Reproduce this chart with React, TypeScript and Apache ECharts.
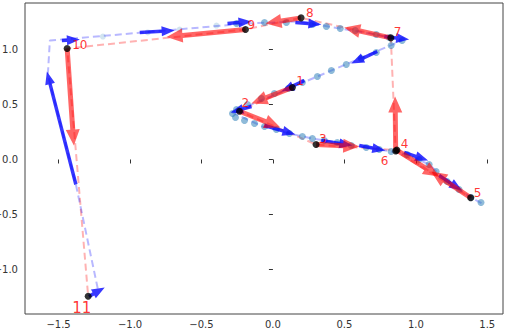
import React, { useEffect, useRef } from "react";
import * as echarts from "echarts";

// Red trajectory points (labelled 1..11)
const pointLabels = ["1", "2", "3", "4", "5", "6", "7", "8", "9", "10", "11"];
const pointX = [0.136, -0.234, 0.302, 0.867, 1.384, 0.859, 0.825, 0.197, -0.192, -1.44, -1.293];
const pointY = [0.655, 0.439, 0.136, 0.085, -0.348, 0.077, 1.106, 1.288, 1.182, 1.009, -1.243];

// Red arrows: tips (start at point i)
const redTipX = [-0.15, 0.052, 0.604, 1.163, 1.107, 0.855, 0.499, -0.052, -0.744, -1.393];
const redTipY = [0.509, 0.291, 0.118, -0.155, -0.109, 0.573, 1.2, 1.236, 1.114, 0.127];

// Blue dashed path
const bluePathX = [-1.226, -1.379, -1.575, -1.561, -0.192, 0.185, 0.471, 0.723, 0.904, -0.283, -0.073, 0.115, 0.276, 0.45, 0.653, 0.827, 0.939, 1.093, 1.219, 1.386, 1.463];
const bluePathY = [-1.173, -0.227, 0.773, 1.082, 1.236, 1.255, 1.191, 1.136, 1.082, 0.427, 0.3, 0.236, 0.191, 0.155, 0.109, 0.073, 0.045, -0.045, -0.2, -0.345, -0.4];

// Blue sampled dots
const blueDotX = [-0.255, -0.059, 0.094, 0.276, 0.374, 0.471, 0.576, 0.723, 0.814, 0.904,
  0.827, 0.723, 0.618, 0.513, 0.409, 0.311, 0.206, 0.108, 0.01, -0.08, -0.178, -0.255, -0.283,
  -0.262, -0.199, -0.129, -0.059, 0.024, 0.115, 0.206, 0.276, 0.36, 0.45, 0.548, 0.653, 0.744, 0.827, 0.939, 1.023, 1.093, 1.142, 1.219, 1.302, 1.386, 1.456];
const blueDotY = [1.236, 1.245, 1.245, 1.227, 1.209, 1.191, 1.173, 1.136, 1.109, 1.082,
  1.036, 0.973, 0.918, 0.864, 0.809, 0.755, 0.7, 0.645, 0.6, 0.555, 0.5, 0.455, 0.418,
  0.382, 0.355, 0.327, 0.3, 0.273, 0.236, 0.209, 0.191, 0.173, 0.155, 0.127, 0.109, 0.091, 0.073, 0.045, 0.0, -0.045, -0.109, -0.2, -0.273, -0.345, -0.391];
const faintDotX = [-1.19, -0.876, -0.653, -0.395];
const faintDotY = [1.118, 1.155, 1.182, 1.218];

// Blue arrows: start and tip
const blueStartX = [-1.288, -1.379, -1.477, -0.932, -0.318, 0.157, 0.779, 0.73, 0.22, -0.15, -0.059, 0.339, 0.604, 0.918, 1.163];
const blueStartY = [-1.245, -0.227, 1.082, 1.155, 1.236, 1.245, 1.118, 0.982, 0.718, 0.482, 0.309, 0.173, 0.127, 0.064, -0.145];
const blueTipX = [-1.177, -1.582, -1.351, -0.688, -0.15, 0.339, 0.953, 0.548, 0.059, -0.297, 0.157, 0.555, 0.786, 1.086, 1.323];
const blueTipY = [-1.164, 0.8, 1.091, 1.173, 1.255, 1.227, 1.091, 0.873, 0.618, 0.427, 0.227, 0.127, 0.082, -0.009, -0.282];

const tickValues = [-1.5, -1.0, -0.5, 0.0, 0.5, 1.0, 1.5];
const yTickValues = [-1.0, -0.5, 0.0, 0.5, 1.0];

// label styling (pixel offsets, font sizes)
const labelOffsets: number[][] = [[4, 0], [2, -2], [3, 0], [4, 0], [3, 1], [-15, 16], [3, 0], [5, 1], [2, 1], [5, 2], [-16, 19]];
const labelSizes = [12, 12, 12, 12, 12, 12, 12, 12, 12, 12, 15];

const fmt = (v: number) => (v < 0 ? "\u2212" + Math.abs(v).toFixed(1) : v.toFixed(1));

function arrowRenderer(shaftW: number, headW: number, headL: number, color: string, opacity: number) {
  return (params: any, api: any) => {
    const p0 = api.coord([api.value(0), api.value(1)]);
    const p1 = api.coord([api.value(2), api.value(3)]);
    const dx = p1[0] - p0[0];
    const dy = p1[1] - p0[1];
    const L = Math.sqrt(dx * dx + dy * dy) || 1;
    const ux = dx / L, uy = dy / L;
    const nx = -uy, ny = ux;
    const hl = Math.min(headL, L);
    const bx = p1[0] - ux * hl, by = p1[1] - uy * hl;
    const sw = shaftW / 2, hw = headW / 2;
    const pts = [
      [p0[0] + nx * sw, p0[1] + ny * sw],
      [bx + nx * sw, by + ny * sw],
      [bx + nx * hw, by + ny * hw],
      [p1[0], p1[1]],
      [bx - nx * hw, by - ny * hw],
      [bx - nx * sw, by - ny * sw],
      [p0[0] - nx * sw, p0[1] - ny * sw],
    ];
    return { type: "polygon", shape: { points: pts }, style: { fill: color, opacity } };
  };
}

export default function App() {
  const ref = useRef<HTMLDivElement>(null);
  useEffect(() => {
    if (!ref.current) return;
    const chart = echarts.init(ref.current, null, { renderer: "svg" });
    const redLine = pointX.map((x, i) => [x, pointY[i]]);
    const blueLine = bluePathX.map((x, i) => [x, bluePathY[i]]);
    const dots = blueDotX.map((x, i) => [x, blueDotY[i]]);
    const faint = faintDotX.map((x, i) => [x, faintDotY[i]]);
    const redArrows = redTipX.map((tx, i) => [pointX[i], pointY[i], tx, redTipY[i]]);
    const blueArrows = blueStartX.map((sx, i) => [sx, blueStartY[i], blueTipX[i], blueTipY[i]]);
    const points = pointX.map((x, i) => ({
      value: [x, pointY[i]],
      name: pointLabels[i],
      label: {
        show: true,
        formatter: pointLabels[i],
        position: "inside",
        align: "left",
        verticalAlign: "bottom",
        offset: labelOffsets[i],
        color: "red",
        fontSize: labelSizes[i],
        fontFamily: "DejaVu Sans",
      },
    }));
    const axisCommon = {
      type: "value" as const,
      axisLine: { show: false },
      splitLine: { show: false },
    };
    chart.setOption({
      animation: false,
      grid: {
        left: 25, right: 6, top: 3, bottom: 18,
        containLabel: false, outerBoundsMode: "none",
        show: true, borderColor: "#444", borderWidth: 1,
      },
      xAxis: {
        ...axisCommon,
        min: -1.735,
        max: 1.61,
        axisTick: { show: true, customValues: tickValues, length: 4, lineStyle: { color: "#333" } },
        axisLabel: { customValues: tickValues, formatter: fmt, margin: 5, fontSize: 10, color: "#333", fontFamily: "DejaVu Sans" },
      },
      yAxis: {
        ...axisCommon,
        min: -1.405,
        max: 1.423,
        axisTick: { show: true, customValues: yTickValues, length: 4, lineStyle: { color: "#333" } },
        axisLabel: { customValues: yTickValues, formatter: fmt, margin: 7, fontSize: 10, color: "#333", fontFamily: "DejaVu Sans" },
      },
      series: [
        {
          type: "line",
          data: redLine,
          symbol: "none",
          lineStyle: { color: "red", opacity: 0.3, width: 2, type: [7, 4] },
          z: 1,
        },
        {
          type: "line",
          data: blueLine,
          symbol: "none",
          lineStyle: { color: "blue", opacity: 0.28, width: 2, type: [7, 4] },
          z: 1,
        },
        {
          type: "scatter",
          data: faint,
          symbolSize: 6,
          itemStyle: { color: "#1f77b4", opacity: 0.2 },
          z: 2,
        },
        {
          type: "scatter",
          data: dots,
          symbolSize: 7,
          itemStyle: { color: "#1f77b4", opacity: 0.5 },
          z: 2,
        },
        {
          type: "custom",
          data: blueArrows,
          encode: { x: [0, 2], y: [1, 3] },
          renderItem: arrowRenderer(3.5, 10, 13, "blue", 0.78),
          z: 3,
        },
        {
          type: "custom",
          data: redArrows,
          encode: { x: [0, 2], y: [1, 3] },
          renderItem: arrowRenderer(5, 14, 16, "red", 0.6),
          z: 4,
        },
        {
          type: "scatter",
          data: points,
          symbolSize: 7,
          itemStyle: { color: "black" },
          z: 5,
        },
      ],
    });
    return () => chart.dispose();
  }, []);
  return <div ref={ref} style={{ position: "absolute", left: 0, top: 0, width: 509, height: 332 }} />;
}
